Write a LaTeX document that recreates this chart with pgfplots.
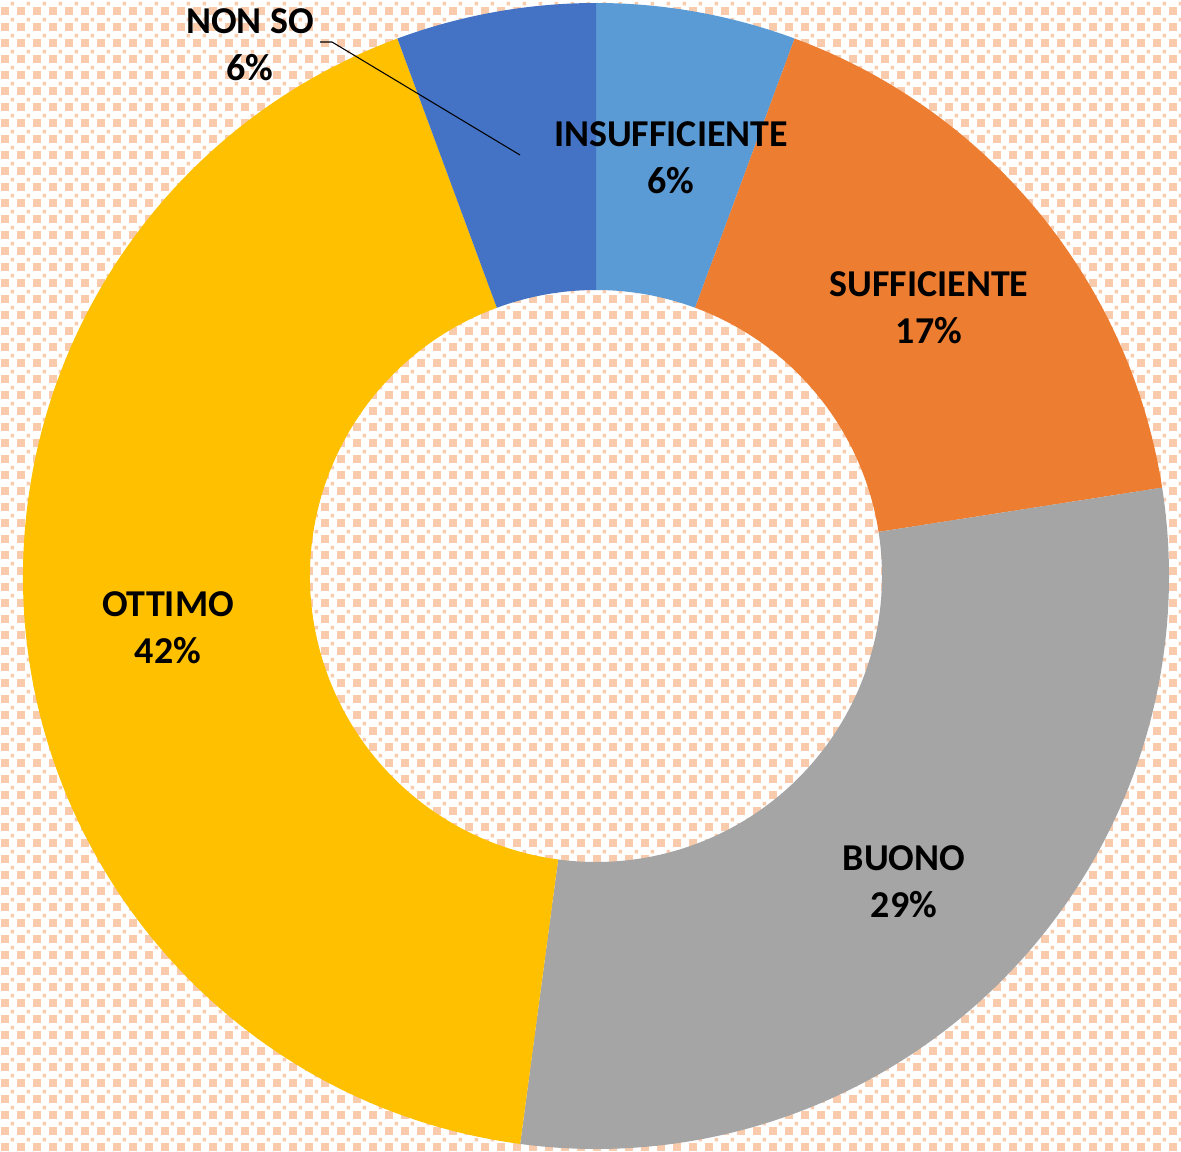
\documentclass[border=0pt]{standalone}
\usepackage{pgfplots}
\usepackage{pgfplotstable}
\pgfplotsset{compat=1.18}
\usetikzlibrary{patterns}
\usepackage{fontspec}
\setmainfont{Carlito}
\definecolor{cInsuf}{HTML}{5B9BD5}
\definecolor{cSuff}{HTML}{ED7D31}
\definecolor{cBuono}{HTML}{A5A5A5}
\definecolor{cOttimo}{HTML}{FFC000}
\definecolor{cNonso}{HTML}{4472C4}
\definecolor{bgdot}{HTML}{F8CBAD}
\pgfdeclarepatternformonly{sqdots}{\pgfpointorigin}{\pgfpoint{4.55pt}{4.55pt}}{\pgfpoint{4.55pt}{4.55pt}}{%
  \pgfpathrectangle{\pgfpoint{0.3pt}{0.3pt}}{\pgfpoint{2.2pt}{2.2pt}}%
  \pgfpathrectangle{\pgfpoint{3.0pt}{3.0pt}}{\pgfpoint{1.0pt}{1.0pt}}%
  \pgfusepath{fill}}
\pgfplotstableread{
label value
INSUFFICIENTE 4
SUFFICIENTE 12
BUONO 21
OTTIMO 30
NONSO 4
}\datatable
\pgfplotstablegetelem{0}{value}\of\datatable \let\vA\pgfplotsretval
\pgfplotstablegetelem{1}{value}\of\datatable \let\vB\pgfplotsretval
\pgfplotstablegetelem{2}{value}\of\datatable \let\vC\pgfplotsretval
\pgfplotstablegetelem{3}{value}\of\datatable \let\vD\pgfplotsretval
\pgfplotstablegetelem{4}{value}\of\datatable \let\vE\pgfplotsretval
\pgfmathsetmacro\total{\vA+\vB+\vC+\vD+\vE}
\pgfmathsetmacro\aO{90}
\pgfmathsetmacro\aA{90-360*\vA/\total}
\pgfmathsetmacro\aB{\aA-360*\vB/\total}
\pgfmathsetmacro\aC{\aB-360*\vC/\total}
\pgfmathsetmacro\aD{\aC-360*\vD/\total}
\pgfmathsetmacro\aE{\aD-360*\vE/\total}
\def\cx{596}
\def\cy{575}
\def\Ro{573}
\def\Ri{286}
\newcommand\slice[3]{% start, end, colour
  \fill[#3] (axis cs:{\cx+\Ro*cos(#1)},{\cy+\Ro*sin(#1)})
    arc[start angle=#1, end angle=#2, radius=57.3mm]
    -- (axis cs:{\cx+\Ri*cos(#2)},{\cy+\Ri*sin(#2)})
    arc[start angle=#2, end angle=#1, radius=28.6mm] -- cycle;}
\begin{document}
\begin{tikzpicture}
\begin{axis}[
  scale only axis, width=118.1mm, height=115.1mm,
  xmin=0, xmax=1181, ymin=0, ymax=1151,
  hide axis, clip=false,
]
\addplot[draw=none, forget plot] coordinates {(0,0) (1181,1151)};
\coordinate (bl) at (axis cs:0,0);
\coordinate (tr) at (axis cs:1181,1151);
\fill[white] (axis cs:0,0) rectangle (axis cs:1181,1151);
\fill[pattern=sqdots, pattern color=bgdot] (axis cs:0,0) rectangle (axis cs:1181,1151);
\slice{\aO}{\aA}{cInsuf}
\slice{\aA}{\aB}{cSuff}
\slice{\aB}{\aC}{cBuono}
\slice{\aC}{\aD}{cOttimo}
\slice{\aD}{\aE}{cNonso}
\draw[black, line width=0.3pt] (axis cs:320,1109) -- (axis cs:332,1109) -- (axis cs:520,996);
\tikzset{lab/.style={font=\fontsize{10.8}{13.4}\selectfont\bfseries, align=center, text=black, inner sep=0pt}}
\node[lab] at (axis cs:250,1106) {NON SO\\6\%};
\node[lab] at (axis cs:671,993) {INSUFFICIENTE\\6\%};
\node[lab] at (axis cs:929,843) {SUFFICIENTE\\17\%};
\node[lab] at (axis cs:904,269) {BUONO\\29\%};
\node[lab] at (axis cs:168,523) {OTTIMO\\42\%};
\end{axis}
\pgfresetboundingbox
\path[use as bounding box] (bl) rectangle (tr);
\end{tikzpicture}
\end{document}
